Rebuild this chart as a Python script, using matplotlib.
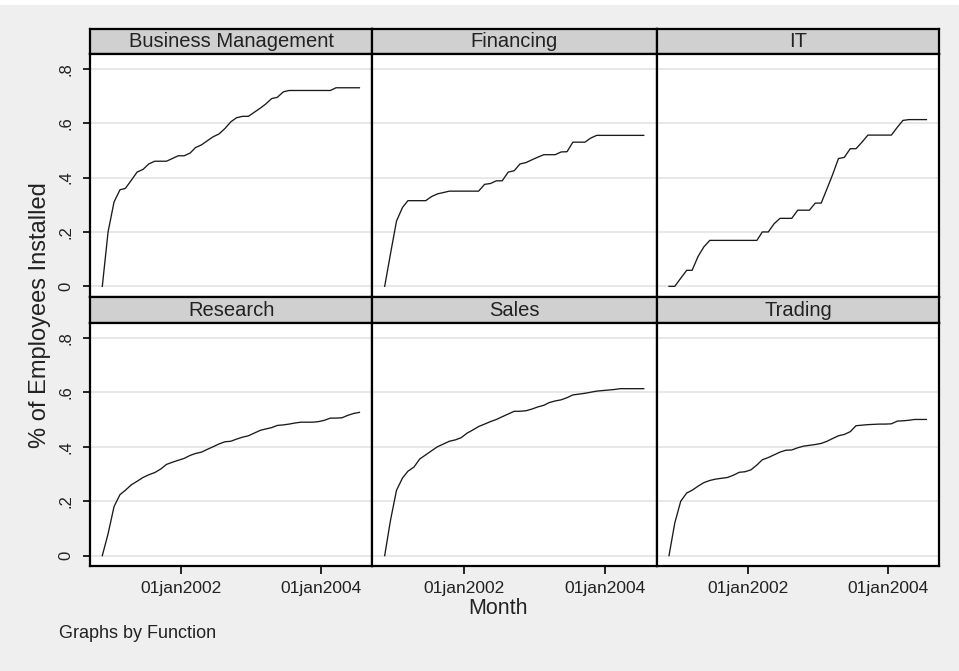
import numpy as np
import pandas as pd
import matplotlib
matplotlib.use("Agg")
import matplotlib.pyplot as plt
import matplotlib.dates as mdates
from matplotlib.patches import Rectangle

plt.rcParams['font.family'] = ['Liberation Sans', 'DejaVu Sans']

# monthly observations, Nov 2000 .. Jul 2004
months = pd.date_range('2000-11-01', periods=45, freq='MS') + pd.Timedelta(days=17)

functions = ['Business Management', 'Financing', 'IT',
             'Research', 'Sales', 'Trading']

business_mgmt = [0, 0.20, 0.31, 0.355, 0.36, 0.39, 0.42, 0.43, 0.45, 0.46,
                 0.46, 0.46, 0.47, 0.48, 0.48, 0.49, 0.51, 0.52, 0.535, 0.55,
                 0.56, 0.58, 0.605, 0.62, 0.625, 0.625, 0.64, 0.655, 0.67, 0.69,
                 0.695, 0.715, 0.72, 0.72, 0.72, 0.72, 0.72, 0.72, 0.72, 0.72,
                 0.73, 0.73, 0.73, 0.73, 0.73]
financing = [0, 0.12, 0.24, 0.29, 0.315, 0.315, 0.315, 0.315, 0.33, 0.34,
             0.345, 0.35, 0.35, 0.35, 0.35, 0.35, 0.35, 0.375, 0.378, 0.388,
             0.388, 0.42, 0.425, 0.45, 0.455, 0.465, 0.475, 0.484, 0.484, 0.484,
             0.494, 0.495, 0.53, 0.53, 0.53, 0.545, 0.555, 0.555, 0.555, 0.555,
             0.555, 0.555, 0.555, 0.555, 0.555]
it = [0, 0, 0.03, 0.059, 0.059, 0.11, 0.145, 0.169, 0.169, 0.169,
      0.169, 0.169, 0.169, 0.169, 0.169, 0.169, 0.2, 0.2, 0.23, 0.25,
      0.25, 0.25, 0.28, 0.28, 0.28, 0.306, 0.306, 0.36, 0.41, 0.47,
      0.474, 0.506, 0.506, 0.53, 0.556, 0.556, 0.556, 0.556, 0.556, 0.585,
      0.61, 0.613, 0.613, 0.613, 0.613]
research = [0, 0.08, 0.18, 0.224, 0.24, 0.26, 0.273, 0.287, 0.297, 0.305,
            0.318, 0.335, 0.343, 0.35, 0.357, 0.368, 0.375, 0.38, 0.39, 0.40,
            0.41, 0.418, 0.42, 0.428, 0.435, 0.44, 0.45, 0.46, 0.465, 0.47,
            0.478, 0.48, 0.483, 0.487, 0.49, 0.49, 0.49, 0.492, 0.497, 0.505,
            0.505, 0.506, 0.515, 0.522, 0.526]
sales = [0, 0.13, 0.24, 0.285, 0.31, 0.325, 0.355, 0.37, 0.385, 0.40,
         0.41, 0.42, 0.425, 0.433, 0.45, 0.462, 0.474, 0.483, 0.492, 0.50,
         0.51, 0.52, 0.53, 0.53, 0.532, 0.538, 0.546, 0.552, 0.562, 0.568,
         0.572, 0.58, 0.59, 0.593, 0.596, 0.60, 0.604, 0.606, 0.608, 0.61,
         0.613, 0.613, 0.613, 0.613, 0.613]
trading = [0, 0.12, 0.20, 0.23, 0.24, 0.255, 0.268, 0.276, 0.281, 0.284,
           0.287, 0.295, 0.306, 0.308, 0.315, 0.333, 0.352, 0.36, 0.37, 0.38,
           0.387, 0.388, 0.396, 0.402, 0.405, 0.408, 0.412, 0.42, 0.43, 0.44,
           0.445, 0.455, 0.477, 0.479, 0.481, 0.482, 0.483, 0.483, 0.484, 0.494,
           0.495, 0.497, 0.50, 0.50, 0.50]
series = [business_mgmt, financing, it, research, sales, trading]

y_ticks = [0, 0.2, 0.4, 0.6, 0.8]
y_ticklabels = ['0', '.2', '.4', '.6', '.8']
x_ticks = [pd.Timestamp('2002-01-01'), pd.Timestamp('2004-01-01')]
x_ticklabels = ['01jan2002', '01jan2004']

W, H = 959, 671
fig = plt.figure(figsize=(W / 100, H / 100), dpi=100, facecolor='#efefef')

# white strip of the page above the graph
fig.patches.append(Rectangle((0, 1 - 5 / H), 1, 5 / H, transform=fig.transFigure,
                             facecolor='white', edgecolor='none', zorder=0))

cols = [(90, 372.3), (372.3, 656.7), (656.7, 939.3)]
rows = [((29.3, 54.3), (54.3, 296.7)), ((297.0, 323.3), (323.3, 566))]

x0 = pd.Timestamp('2002-01-01') - pd.Timedelta(days=473)
x1 = pd.Timestamp('2002-01-01') + pd.Timedelta(days=996)

def frac(px_left, px_right, px_top, px_bot):
    return [px_left / W, 1 - px_bot / H, (px_right - px_left) / W, (px_bot - px_top) / H]

for k, (name, vals) in enumerate(zip(functions, series)):
    r, c = divmod(k, 3)
    (ht, hb), (pt, pb) = rows[r]
    xl, xr = cols[c]

    hax = fig.add_axes(frac(xl, xr, ht, hb))
    hax.set_facecolor('#d0d0d0')
    hax.set_xticks([])
    hax.set_yticks([])
    for s in hax.spines.values():
        s.set_linewidth(1.6)
    hax.text(0.5, 0.5, name, ha='center', va='center', fontsize=14.5,
             color='#222222', transform=hax.transAxes)

    ax = fig.add_axes(frac(xl, xr, pt, pb))
    ax.set_facecolor('white')
    ax.plot(months, vals, color='#1a1a1a', lw=0.95)
    ax.set_xlim(x0, x1)
    ax.set_ylim(-0.038, 0.853)
    for s in ax.spines.values():
        s.set_linewidth(1.6)
    ax.set_yticks(y_ticks)
    for yv in y_ticks:
        ax.axhline(yv, color='#e4e4e4', lw=1.2, zorder=0)
    if c == 0:
        ax.set_yticklabels(y_ticklabels, rotation=90, va='center', fontsize=12,
                           color='#222222')
        ax.tick_params(axis='y', length=5, width=1.2, pad=7)
    else:
        ax.tick_params(axis='y', left=False, labelleft=False)
    if r == 1:
        ax.set_xticks(x_ticks)
        ax.set_xticklabels(x_ticklabels, fontsize=12.5, color='#222222')
        ax.tick_params(axis='x', length=6, width=1.2, pad=5)
    else:
        ax.tick_params(axis='x', bottom=False, labelbottom=False)

fig.text(40 / W, 1 - 315 / H, '% of Employees Installed', rotation=90,
         ha='center', va='center', fontsize=17, color='#222222')
fig.text(498 / W, 1 - 608 / H, 'Month', ha='center', va='center',
         fontsize=15.5, color='#222222')
fig.text(59 / W, 1 - 634 / H, 'Graphs by Function', ha='left', va='center',
         fontsize=13, color='#222222')

fig.savefig('out.png', dpi=100, facecolor=fig.get_facecolor())
